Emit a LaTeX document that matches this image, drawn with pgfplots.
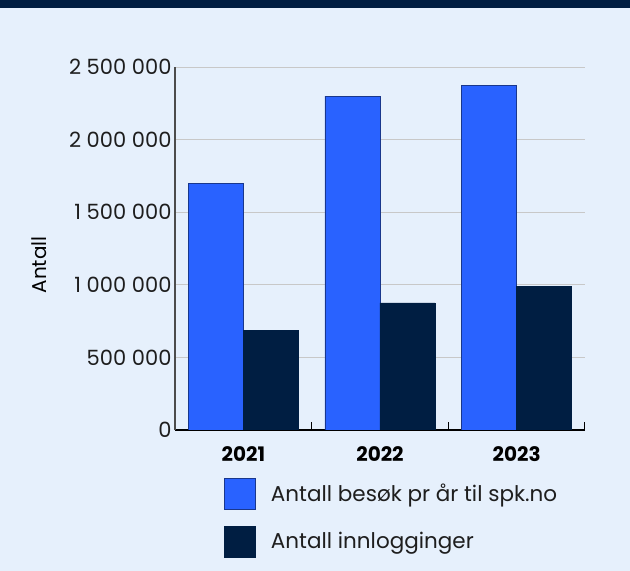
\documentclass[border=0pt]{standalone}
\usepackage{fontspec}
\setmainfont{Poppins}
\usepackage{pgfplots}
\pgfplotsset{compat=1.18}
\definecolor{bg}{RGB}{230,240,252}
\definecolor{navy}{RGB}{0,30,66}
\definecolor{sblue}{RGB}{41,98,255}
\definecolor{sblueedge}{RGB}{25,55,140}
\definecolor{gridc}{RGB}{200,200,200}
\definecolor{txt}{RGB}{30,30,30}
\begin{document}
\begin{tikzpicture}[x=1pt,y=1pt]
\fill[bg] (0,0) rectangle (630,571);
\fill[navy] (0,563) rectangle (630,571);
\begin{axis}[
  at={(175pt,141pt)}, anchor=south west,
  scale only axis, width=410pt, height=363pt,
  xmin=-0.5, xmax=2.5, ymin=0, ymax=2500000,
  ybar=0pt, bar width=55pt,
  axis x line*=bottom, axis y line*=left,
  x axis line style={black, line width=1.2pt},
  y axis line style={black!70, line width=1.2pt},
  xtick={0,1,2}, xticklabels={2021,2022,2023},
  major tick length=0pt,
  tick align=inside,
  xticklabel style={font=\fontsize{20}{24}\selectfont\bfseries, text=black, yshift=-13pt},
  extra x ticks={0.5,1.5,2.5}, extra x tick labels={},
  extra x tick style={grid=none, major tick length=8pt, tick style={black, line width=1pt}},
  ytick={0,500000,1000000,1500000,2000000,2500000},
  ytick style={draw=none},
  yticklabel style={font=\fontsize{21}{25}\selectfont, text=txt},
  /pgf/number format/.cd, fixed, precision=0, 1000 sep={\ }, assume math mode=true,
  /pgfplots/.cd,
  scaled y ticks=false,
  ymajorgrids, major grid style={gridc, line width=0.8pt},
  ylabel={Antall},
  ylabel style={font=\fontsize{20}{24}\selectfont, text=black, at={(axis description cs:-0.331,0.4545)}, anchor=center, rotate=0},
  legend style={at={(axis description cs:0.1195,-0.131)}, anchor=north west, draw=none, fill=none,
    font=\fontsize{21.5}{25}\selectfont, row sep=16pt, column sep=13pt, inner sep=0pt, cells={anchor=west}, text=txt},
  legend image code/.code={\draw[#1] (0pt,-15.5pt) rectangle (31pt,15.5pt);},
]
\addplot[fill=sblue, draw=sblueedge, line width=0.8pt] coordinates {(0,1700000) (1,2300000) (2,2370000)};
\addplot[fill=navy, draw=navy, line width=0.8pt] coordinates {(0,685000) (1,875000) (2,990000)};
\legend{Antall besøk pr år til spk.no, Antall innlogginger}
\end{axis}
\end{tikzpicture}
\end{document}
